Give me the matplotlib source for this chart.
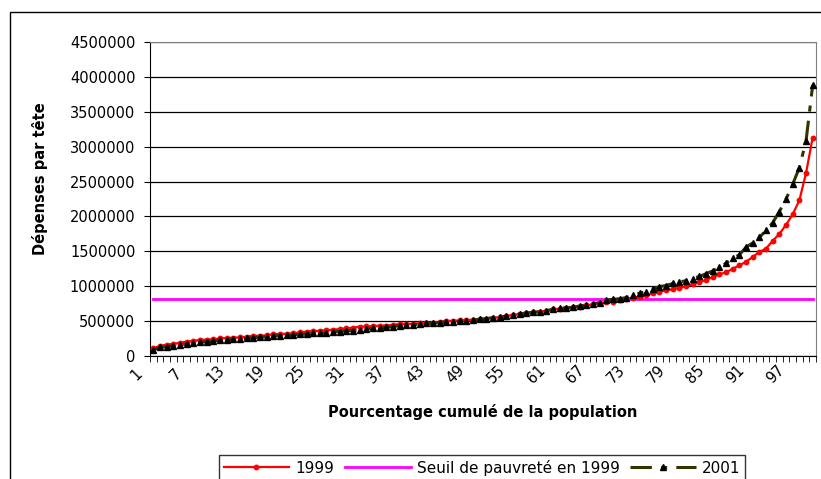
import matplotlib
matplotlib.use('Agg')
import matplotlib.pyplot as plt
import numpy as np
from matplotlib.patches import Rectangle
from matplotlib.transforms import ScaledTranslation

# percentiles of population (1..100)
percentiles = list(range(1, 101))

# per-head spending, in thousands
dep_1999 = [110, 143, 163, 172, 191, 206, 215, 230, 235, 239,
            253, 256, 263, 266, 277, 287, 292, 295, 311, 316,
            318, 325, 339, 349, 358, 360, 373, 375, 387, 397,
            406, 421, 423, 430, 435, 437, 445, 459, 460, 462,
            469, 471, 478, 490, 500, 505, 510, 515, 520, 528,
            536, 550, 556, 574, 588, 603, 615, 626, 636, 650,
            668, 680, 690, 698, 707, 727, 741, 756, 770, 779,
            803, 818, 837, 851, 870, 899, 920, 940, 957, 975,
            1000, 1030, 1057, 1090, 1130, 1170, 1200, 1250, 1300, 1350,
            1420, 1490, 1540, 1650, 1750, 1880, 2030, 2230, 2620, 3130]

dep_2001 = [86, 124, 134, 148, 158, 172, 191, 196, 206, 210,
            230, 235, 239, 244, 253, 263, 268, 277, 287, 292,
            295, 301, 311, 314, 325, 326, 328, 349, 351, 363,
            365, 373, 387, 397, 399, 411, 421, 435, 445, 447,
            459, 469, 471, 480, 490, 492, 495, 507, 517, 526,
            536, 550, 555, 574, 588, 603, 617, 626, 636, 650,
            670, 684, 693, 698, 717, 732, 746, 765, 803, 813,
            820, 837, 875, 900, 923, 961, 995, 1010, 1040, 1060,
            1080, 1110, 1140, 1180, 1220, 1270, 1330, 1400, 1450, 1560,
            1620, 1700, 1800, 1910, 2070, 2250, 2460, 2700, 3080, 3880]

seuil_1999 = 822  # poverty line, thousands

tick_pos = [1, 7, 13, 19, 25, 31, 37, 43, 49, 55, 61, 67, 73, 79, 85, 91, 97]
tick_labels = [str(t) for t in tick_pos]

x = np.array(percentiles)
y99 = np.array(dep_1999) * 1000
y01 = np.array(dep_2001) * 1000
ys = np.full(len(x), seuil_1999 * 1000)

plt.rcParams['font.family'] = ['DejaVu Sans']

fig = plt.figure(figsize=(8.21, 4.79), dpi=100)
ax = fig.add_axes([150/821, 1-356/479, 666/821, 314/479])

ax.plot(x, y99, color='#FF0000', lw=1.6, marker='o', ms=3.2,
        mec='#FF0000', mfc='#FF0000', label='1999', zorder=3)
ax.plot(x, ys, color='#FF00FF', lw=2, label='Seuil de pauvreté en 1999', zorder=2)
ax.plot(x, y01, color='#333300', lw=2.2, dashes=(7, 3, 2, 3), marker='^', ms=4,
        mec='black', mfc='black', label='2001', zorder=4)

ax.set_xlim(0.5, 100.5)
ax.set_ylim(0, 4500000)
ax.set_yticks(np.arange(0, 4500001, 500000))
ax.set_yticklabels([str(v) for v in range(0, 4500001, 500000)], fontsize=10.5)
ax.grid(axis='y', color='black', lw=0.9)
ax.set_axisbelow(True)

ax.set_xticks(tick_pos)
ax.set_xticklabels(tick_labels, fontsize=10.5, rotation=45,
                   ha='center', va='center', rotation_mode='anchor')
ax.set_xticks(np.arange(0.5, 101, 1), minor=True)
ax.tick_params(axis='x', which='major', length=0, pad=13)
ax.tick_params(axis='x', which='minor', length=4, color='black', direction='out')
ax.tick_params(axis='y', length=4.5, pad=6, color='black')
off = ScaledTranslation(-0.17, 0, fig.dpi_scale_trans)
for lab in ax.get_xticklabels():
    lab.set_transform(lab.get_transform() + off)

for s in ['top', 'right']:
    ax.spines[s].set_color('#808080')
for s in ['left', 'bottom']:
    ax.spines[s].set_color('black')

ax.set_ylabel('Dépenses par tête', fontsize=10.5, fontweight='bold',
              ha='center', va='center')
ax.yaxis.set_label_coords(-0.165, 0.564)
ax.set_xlabel('Pourcentage cumulé de la population', fontsize=10.5,
              fontweight='bold', ha='center', va='center')
ax.xaxis.set_label_coords(0.5, -0.178)

leg = fig.legend(loc='upper left', bbox_to_anchor=(219/821, 1-455/479),
                 ncol=3, fontsize=11, frameon=True, fancybox=False,
                 edgecolor='black', numpoints=1, handlelength=4.3,
                 handletextpad=0.4, columnspacing=0.7, borderpad=0.3,
                 borderaxespad=0)
leg.get_frame().set_linewidth(1)

fig.add_artist(Rectangle((10/821, -0.1), 1.2, 1.1 - 12/479,
                         transform=fig.transFigure, fill=False,
                         edgecolor='black', lw=1))

fig.savefig('out.png', dpi=100, facecolor='white')
